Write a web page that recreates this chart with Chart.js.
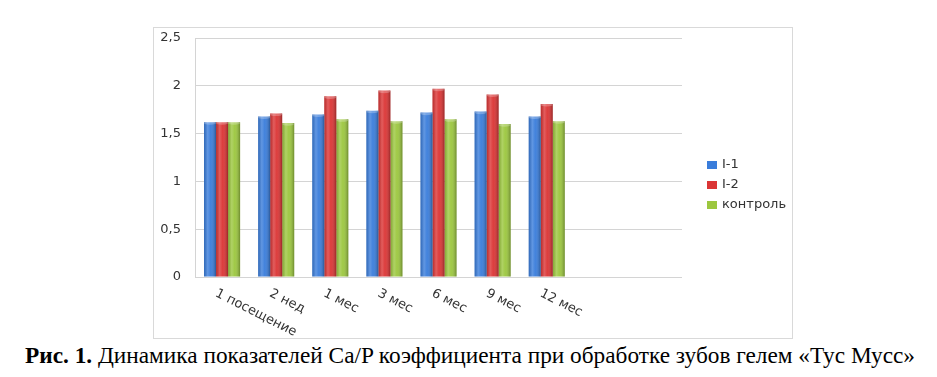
<!DOCTYPE html>
<html lang="ru">
<head>
<meta charset="utf-8">
<script src="https://cdn.jsdelivr.net/npm/chart.js@4/dist/chart.umd.min.js"></script>
<style>
  html, body { margin: 0; padding: 0; background: #fff; }
  body { width: 937px; height: 377px; position: relative; overflow: hidden; }
  .chart-box {
    position: absolute; left: 153px; top: 27px; width: 640px; height: 312px;
    box-sizing: border-box; border: 1px solid #d9d9d9; background: #fff;
  }
  .chart-box canvas { display: block; }
  .caption {
    position: absolute; left: 25px; top: 342px; white-space: nowrap;
    font-family: "Liberation Serif", "DejaVu Serif", serif; font-size: 23.3px; color: #000;
  }
</style>
</head>
<body>
<div class="chart-box"><canvas id="caChart" width="638" height="310"></canvas></div>
<div class="caption"><b>Рис. 1.</b> Динамика показателей Ca/P коэффициента при обработке зубов гелем «Тус Мусс»</div>
<script>
  // Data
  const categories = ['1 посещение', '2 нед', '1 мес', '3 мес', '6 мес', '9 мес', '12 мес', '', ''];
  const seriesNames = ['I-1', 'I-2', 'контроль'];
  const valuesI1 = [1.62, 1.68, 1.70, 1.74, 1.72, 1.73, 1.68];
  const valuesI2 = [1.62, 1.71, 1.89, 1.95, 1.97, 1.91, 1.81];
  const valuesControl = [1.62, 1.61, 1.65, 1.63, 1.65, 1.60, 1.63];
  const yTicks = [0, 0.5, 1, 1.5, 2, 2.5];
  const colors = ['#3a7ddb', '#db3535', '#9cc73f'];

  // rotated category labels (text goes down to the right)
  const slantedLabels = {
    id: 'slantedLabels',
    afterDraw(chart) {
      const xs = chart.scales.x, ctx = chart.ctx;
      ctx.save();
      ctx.font = '13px "DejaVu Sans", Verdana, sans-serif';
      ctx.fillStyle = '#333';
      ctx.textAlign = 'left';
      ctx.textBaseline = 'top';
      categories.forEach((lab, i) => {
        if (!lab) return;
        const x = xs.getPixelForValue(i);
        ctx.save();
        ctx.translate(x - 3, xs.top + 10);
        ctx.rotate(0.47);
        ctx.fillText(lab, 0, 0);
        ctx.restore();
      });
      ctx.restore();
    }
  };

  // cylinder-like shading on bars
  const barShade = {
    id: 'barShade',
    afterDatasetsDraw(chart) {
      const ctx = chart.ctx;
      chart.data.datasets.forEach((ds, di) => {
        chart.getDatasetMeta(di).data.forEach(bar => {
          const p = bar.getProps(['x', 'y', 'base', 'width'], true);
          const left = p.x - p.width / 2;
          const g = ctx.createLinearGradient(left, 0, left + p.width, 0);
          g.addColorStop(0, 'rgba(0,0,0,0.15)');
          g.addColorStop(0.3, 'rgba(255,255,255,0.2)');
          g.addColorStop(0.55, 'rgba(255,255,255,0.04)');
          g.addColorStop(1, 'rgba(0,0,0,0.3)');
          ctx.save();
          ctx.fillStyle = g;
          ctx.fillRect(left, p.y, p.width, p.base - p.y);
          ctx.fillStyle = 'rgba(255,255,255,0.25)';
          ctx.beginPath();
          ctx.ellipse(p.x, p.y + 1, p.width / 2, 1.6, 0, 0, Math.PI * 2);
          ctx.fill();
          ctx.restore();
        });
      });
    }
  };

  // legend on the right
  const sideLegend = {
    id: 'sideLegend',
    afterDraw(chart) {
      const ctx = chart.ctx;
      ctx.save();
      ctx.font = '13px "DejaVu Sans", Verdana, sans-serif';
      ctx.textBaseline = 'middle';
      ctx.textAlign = 'left';
      chart.data.datasets.forEach((ds, i) => {
        const y = 137 + i * 20;
        ctx.fillStyle = ds.backgroundColor;
        ctx.fillRect(553, y - 4, 10, 8);
        ctx.fillStyle = '#333';
        ctx.fillText(ds.label, 568, y);
      });
      ctx.restore();
    }
  };

  new Chart(document.getElementById('caChart'), {
    type: 'bar',
    data: {
      labels: categories,
      datasets: [
        { label: seriesNames[0], data: valuesI1, backgroundColor: colors[0] },
        { label: seriesNames[1], data: valuesI2, backgroundColor: colors[1] },
        { label: seriesNames[2], data: valuesControl, backgroundColor: colors[2] }
      ]
    },
    options: {
      responsive: false,
      animation: false,
      layout: { padding: { top: 10, right: 110, left: 0, bottom: 0 } },
      datasets: { bar: { categoryPercentage: 0.667, barPercentage: 1.0 } },
      plugins: { legend: { display: false }, tooltip: { enabled: false } },
      scales: {
        x: {
          grid: { display: false },
          border: { display: false },
          ticks: { display: false },
          afterFit(scale) { scale.height = 61; }
        },
        y: {
          min: 0,
          max: 2.5,
          afterBuildTicks(scale) { scale.ticks = yTicks.map(v => ({ value: v })); },
          afterFit(scale) { scale.width = 41; scale.paddingTop = 0; scale.paddingBottom = 0; },
          ticks: {
            padding: 14,
            color: '#333',
            font: { family: '"DejaVu Sans", Verdana, sans-serif', size: 13 },
            callback: v => String(v).replace('.', ',')
          },
          grid: { color: '#d4d4d4', drawTicks: false },
          border: { display: true, color: '#d4d4d4' }
        }
      }
    },
    plugins: [barShade, slantedLabels, sideLegend]
  });
</script>
</body>
</html>
